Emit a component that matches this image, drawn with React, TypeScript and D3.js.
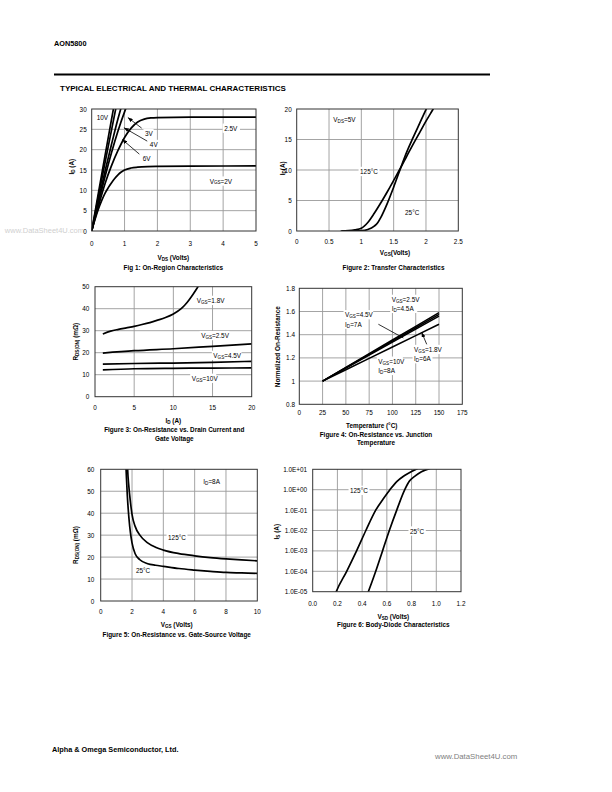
import React from "react";
import * as d3 from "d3";

type Pt = [number, number];

const FONT = "'Liberation Sans', Arial, Helvetica, sans-serif";

// ---------- Figure 1: On-Region Characteristics (ID vs VDS)
const fig1XTicks = [0, 1, 2, 3, 4, 5];
const fig1YTicks = [0, 5, 10, 15, 20, 25, 30];
const fig1Vgs10V: Pt[] = [[0, 0], [0.2, 9.2], [0.4, 18.3], [0.6, 27.3], [0.7, 31.8]];
const fig1Vgs6V: Pt[] = [[0, 0], [0.2, 8.4], [0.4, 16.6], [0.6, 24.7], [0.73, 30], [0.8, 32.7]];
const fig1Vgs4V: Pt[] = [[0, 0], [0.2, 7.4], [0.4, 14.5], [0.6, 21.2], [0.8, 27.6], [0.9, 30.5]];
const fig1Vgs3V: Pt[] = [[0, 0], [0.2, 6.8], [0.4, 13.2], [0.6, 19.2], [0.8, 24.6], [1.0, 29.3], [1.1, 31.4]];
const fig1Vgs2_5V: Pt[] = [[0, 0], [0.2, 6], [0.4, 11.5], [0.6, 16], [0.8, 19.8], [1.0, 23], [1.2, 25.3], [1.4, 26.8], [1.6, 27.5], [1.8, 27.8], [2, 27.9], [3, 28], [4, 28], [5, 28]];
const fig1Vgs2V: Pt[] = [[0, 0], [0.1, 2.8], [0.2, 5.3], [0.3, 7.4], [0.4, 9.2], [0.5, 10.6], [0.6, 11.8], [0.7, 12.9], [0.8, 13.8], [0.9, 14.5], [1.0, 15.0], [1.2, 15.5], [1.4, 15.7], [1.7, 15.85], [2, 15.9], [3, 15.95], [5, 16]];

// ---------- Figure 2: Transfer Characteristics (ID vs VGS)
const fig2XTicks = [0, 0.5, 1, 1.5, 2, 2.5];
const fig2YTicks = [0, 5, 10, 15, 20];
const fig2T125: Pt[] = [[0.68, 0], [0.8, 0.05], [0.9, 0.18], [1.0, 0.45], [1.1, 1.4], [1.2, 2.9], [1.3, 4.6], [1.4, 6.4], [1.5, 8.3], [1.6, 10.2], [1.7, 12.2], [1.8, 14.2], [1.9, 16.1], [2.0, 18.0], [2.1, 19.8], [2.15, 20.7]];
const fig2T25: Pt[] = [[0.7, 0], [0.9, 0.01], [1.0, 0.05], [1.1, 0.25], [1.2, 0.8], [1.25, 1.3], [1.3, 2.2], [1.4, 4.5], [1.5, 7.2], [1.6, 10.1], [1.7, 12.9], [1.8, 15.3], [1.9, 17.6], [2.0, 19.9], [2.05, 21]];

// ---------- Figure 3: On-Resistance vs Drain Current
const fig3XTicks = [0, 5, 10, 15, 20];
const fig3YTicks = [0, 10, 20, 30, 40, 50];
const fig3Vgs1_8V: Pt[] = [[1, 28.5], [2, 29.8], [3, 30.6], [4, 31.3], [5, 32], [6, 32.8], [7, 33.7], [8, 34.8], [9, 36], [10, 37.6], [11, 40], [11.5, 41.8], [12, 44], [12.5, 46.5], [13, 49.2], [13.3, 51]];
const fig3Vgs2_5V: Pt[] = [[1, 19.8], [5, 20.9], [10, 21.8], [15, 22.9], [20, 24]];
const fig3Vgs4_5V: Pt[] = [[1, 14.8], [5, 15.1], [10, 15.3], [15, 15.6], [20, 16.1]];
const fig3Vgs10V: Pt[] = [[1, 12.2], [5, 12.7], [10, 12.9], [15, 13], [20, 13.1]];

// ---------- Figure 4: Normalized On-Resistance vs Temperature
const fig4XTicks = [0, 25, 50, 75, 100, 125, 150, 175];
const fig4YTicks = [0.8, 1, 1.2, 1.4, 1.6, 1.8];
const fig4Vgs2_5V: Pt[] = [[25, 1], [50, 1.118], [75, 1.236], [100, 1.354], [125, 1.472], [150, 1.59]];
const fig4Vgs4_5V: Pt[] = [[25, 1], [50, 1.115], [75, 1.23], [100, 1.345], [125, 1.46], [150, 1.575]];
const fig4Vgs10V: Pt[] = [[25, 1], [50, 1.112], [75, 1.224], [100, 1.336], [125, 1.448], [150, 1.56]];
const fig4Vgs1_8V: Pt[] = [[25, 1], [50, 1.098], [75, 1.196], [100, 1.294], [125, 1.392], [150, 1.49]];

// ---------- Figure 5: On-Resistance vs Gate-Source Voltage
const fig5XTicks = [0, 2, 4, 6, 8, 10];
const fig5YTicks = [0, 10, 20, 30, 40, 50, 60];
const fig5T25: Pt[] = [[1.58, 66], [1.62, 60], [1.7, 48], [1.8, 38], [1.9, 31], [2.0, 26.5], [2.2, 21.5], [2.5, 18.8], [3, 17], [3.5, 16.3], [4, 15.8], [5, 14.8], [6, 14.1], [7, 13.5], [8, 13], [9, 12.8], [10, 12.6]];
const fig5T125: Pt[] = [[1.69, 66], [1.72, 60], [1.8, 52], [1.9, 45], [2.0, 39.5], [2.2, 34], [2.5, 30], [3, 26.5], [3.5, 24.5], [4, 23.2], [5, 21.6], [6, 20.6], [7, 19.8], [8, 19.2], [9, 18.7], [10, 18.3]];

// ---------- Figure 6: Body-Diode Characteristics (IS vs VSD, log)
const fig6XTicks = [0, 0.2, 0.4, 0.6, 0.8, 1.0, 1.2];
const fig6YTicks = [1e-5, 1e-4, 1e-3, 1e-2, 1e-1, 1, 10];
const fig6YTickLabels = ["1.0E-05", "1.0E-04", "1.0E-03", "1.0E-02", "1.0E-01", "1.0E+00", "1.0E+01"];
const fig6T125: Pt[] = [[0.18, 7e-6], [0.19, 1e-5], [0.275, 1e-4], [0.355, 1e-3], [0.43, 1e-2], [0.51, 1e-1], [0.57, 0.35], [0.625, 1], [0.68, 2.5], [0.74, 4.8], [0.8, 7.9], [0.85, 11]];
const fig6T25: Pt[] = [[0.44, 7e-6], [0.45, 1e-5], [0.51, 1e-4], [0.565, 1e-3], [0.62, 1e-2], [0.68, 1e-1], [0.745, 1], [0.78, 2.5], [0.83, 4.8], [0.88, 7.6], [0.95, 11]];

interface Label { at: Pt; text: string; box?: boolean; }
interface Arrow { from: Pt; to: Pt; head?: boolean; }
interface PanelProps {
  id: string;
  left: number; right: number; top: number; bottom: number;
  xDomain: [number, number]; yDomain: [number, number]; yLog?: boolean;
  xTicks: number[]; yTicks: number[];
  xFmt: (v: number, i: number) => string; yFmt: (v: number, i: number) => string;
  xTickDy: number; yTickDx: number;
  series: Pt[][]; linear?: boolean; strokeW?: number;
  labels: Label[]; arrows?: Arrow[];
  xLabel: string; xLabelAt: Pt;
  yLabel: string; yLabelAt: Pt;
  title: string[]; titleAt: Pt;
}

const FS = 6.4;

function rich(str: string, fs: number) {
  const out: React.ReactNode[] = [];
  const re = /\{([^}]*)\}/g;
  let last = 0;
  let m: RegExpExecArray | null;
  let k = 0;
  let pendingUp = false;
  const sh = fs * 0.3;
  while ((m = re.exec(str))) {
    if (m.index > last) {
      out.push(<tspan key={k++} dy={pendingUp ? -sh : undefined}>{str.slice(last, m.index)}</tspan>);
      pendingUp = false;
    }
    out.push(<tspan key={k++} fontSize={fs * 0.72} dy={pendingUp ? 0 : sh}>{m[1]}</tspan>);
    pendingUp = true;
    last = re.lastIndex;
  }
  if (last < str.length) {
    out.push(<tspan key={k++} dy={pendingUp ? -sh : undefined}>{str.slice(last)}</tspan>);
  }
  return out;
}

function richWidth(str: string, fs: number) {
  const re = /\{([^}]*)\}/g;
  const subs = [...str.matchAll(re)].map((m) => m[1]).join("");
  const plain = str.replace(re, "");
  return plain.length * fs * 0.56 + subs.length * fs * 0.72 * 0.56;
}

function Panel(p: PanelProps) {
  const x = d3.scaleLinear().domain(p.xDomain).range([p.left, p.right]);
  const y = p.yLog
    ? d3.scaleLog().domain(p.yDomain).range([p.bottom, p.top])
    : d3.scaleLinear().domain(p.yDomain).range([p.bottom, p.top]);
  const line = d3
    .line<Pt>()
    .x((d) => x(d[0]))
    .y((d) => y(d[1]))
    .curve(p.linear ? d3.curveLinear : d3.curveMonotoneX);
  const grid = "#9a9a9a";
  return (
    <g fontFamily={FONT}>
      <defs>
        <clipPath id={p.id}>
          <rect x={p.left} y={p.top} width={p.right - p.left} height={p.bottom - p.top} />
        </clipPath>
      </defs>
      {p.xTicks.slice(1, -1).map((t) => (
        <line key={"gx" + t} x1={x(t)} x2={x(t)} y1={p.top} y2={p.bottom} stroke={grid} strokeWidth={0.9} />
      ))}
      {p.yTicks.slice(1, -1).map((t) => (
        <line key={"gy" + t} x1={p.left} x2={p.right} y1={y(t)} y2={y(t)} stroke={grid} strokeWidth={0.9} />
      ))}
      {p.labels.filter((l) => l.box !== false).map((l, i) => {
        const w = richWidth(l.text, FS);
        return (
          <rect key={"lb" + i} x={x(l.at[0]) - 1.5} y={y(l.at[1]) - FS * 0.65} width={w + 3} height={FS * 1.45} fill="#fff" />
        );
      })}
      <g clipPath={`url(#${p.id})`}>
        {p.series.map((s, i) => (
          <path key={"s" + i} d={line(s) || ""} fill="none" stroke="#000" strokeWidth={p.strokeW ?? 1.7} strokeLinejoin="round" />
        ))}
      </g>
      <rect x={p.left} y={p.top} width={p.right - p.left} height={p.bottom - p.top} fill="none" stroke="#333" strokeWidth={1} />
      {(p.arrows || []).map((a, i) => (
        <line key={"a" + i} x1={x(a.from[0])} y1={y(a.from[1])} x2={x(a.to[0])} y2={y(a.to[1])} stroke="#000" strokeWidth={0.8}
          markerEnd={a.head ? "url(#arrowhead)" : undefined} />
      ))}
      {p.labels.map((l, i) => (
        <text key={"lt" + i} x={x(l.at[0])} y={y(l.at[1])} fontSize={FS} dominantBaseline="central" fill="#000">
          {rich(l.text, FS)}
        </text>
      ))}
      {p.xTicks.map((t, i) => (
        <text key={"tx" + i} x={x(t)} y={p.bottom + p.xTickDy} fontSize={FS} textAnchor="middle" dominantBaseline="central">
          {p.xFmt(t, i)}
        </text>
      ))}
      {p.yTicks.map((t, i) => (
        <text key={"ty" + i} x={p.left - p.yTickDx} y={y(t)} fontSize={FS} textAnchor="end" dominantBaseline="central">
          {p.yFmt(t, i)}
        </text>
      ))}
      <text x={p.xLabelAt[0]} y={p.xLabelAt[1]} fontSize={FS} fontWeight="bold" textAnchor="middle" dominantBaseline="central">
        {rich(p.xLabel, FS)}
      </text>
      <text transform={`translate(${p.yLabelAt[0]},${p.yLabelAt[1]}) rotate(-90)`} fontSize={FS} fontWeight="bold" textAnchor="middle" dominantBaseline="central">
        {rich(p.yLabel, FS)}
      </text>
      {p.title.map((t, i) => (
        <text key={"tt" + i} x={p.titleAt[0]} y={p.titleAt[1] + i * 8.3} fontSize={FS} fontWeight="bold" textAnchor="middle" dominantBaseline="central">
          {t}
        </text>
      ))}
    </g>
  );
}

const num = (v: number) => String(v);

export default function App() {
  return (
    <div style={{ position: "absolute", left: 0, top: 0 }}>
      <svg width={612} height={792} style={{ display: "block", background: "#fff" }} fontFamily={FONT}>
        <defs>
          <marker id="arrowhead" markerUnits="userSpaceOnUse" markerWidth={5} markerHeight={4} refX={5} refY={2} orient="auto">
            <path d="M0,0 L5,2 L0,4 z" fill="#000" />
          </marker>
          <clipPath id="titleclip">
            <rect x={0} y={70} width={299} height={30} />
          </clipPath>
        </defs>
        <rect x={0} y={0} width={612} height={792} fill="#fff" />
        <text x={54} y={43.5} fontSize={7.3} fontWeight="bold" dominantBaseline="central">AON5800</text>
        <line x1={54} x2={490} y1={74.5} y2={74.5} stroke="#000" strokeWidth={2} />
        <text x={60} y={88} fontSize={8} fontWeight="bold" dominantBaseline="central" clipPath="url(#titleclip)">
          TYPICAL ELECTRICAL AND THERMAL CHARACTERISTICS
        </text>
        <text x={84} y={230} fontSize={7.5} fill="#cfcfcf" textAnchor="end" dominantBaseline="central">www.DataSheet4U.com</text>

        <Panel
          id="f1" left={91.7} right={256} top={109} bottom={231}
          xDomain={[0, 5]} yDomain={[0, 30]} xTicks={fig1XTicks} yTicks={fig1YTicks}
          xFmt={num} yFmt={num} xTickDy={12} yTickDx={5}
          series={[fig1Vgs10V, fig1Vgs6V, fig1Vgs4V, fig1Vgs3V, fig1Vgs2_5V, fig1Vgs2V]}
          labels={[
            { at: [0.15, 27.95], text: "10V", box: false },
            { at: [1.62, 24.1], text: "3V" },
            { at: [1.77, 21.4], text: "4V" },
            { at: [1.55, 18.0], text: "6V" },
            { at: [4.03, 25.4], text: "2.5V" },
            { at: [3.59, 12.4], text: "V{GS}=2V" },
          ]}
          arrows={[
            { from: [1.52, 25.3], to: [1.1, 27.9], head: true },
            { from: [1.69, 22.1], to: [0.98, 25.4], head: true },
            { from: [1.45, 18.9], to: [0.93, 22.5], head: true },
          ]}
          xLabel="V{DS} (Volts)" xLabelAt={[173.3, 257.3]}
          yLabel="I{D} (A)" yLabelAt={[70.7, 166.7]}
          title={["Fig 1: On-Region Characteristics"]} titleAt={[173.3, 267.3]}
        />

        <Panel
          id="f2" left={296.7} right={458.3} top={109} bottom={231}
          xDomain={[0, 2.5]} yDomain={[0, 20]} xTicks={fig2XTicks} yTicks={fig2YTicks}
          xFmt={num} yFmt={num} xTickDy={10} yTickDx={5}
          series={[fig2T125, fig2T25]}
          labels={[
            { at: [0.567, 18.4], text: "V{DS}=5V" },
            { at: [0.98, 9.84], text: "125°C" },
            { at: [1.676, 3.06], text: "25°C" },
          ]}
          xLabel="V{GS}(Volts)" xLabelAt={[395, 251.7]}
          yLabel="I{D}(A)" yLabelAt={[281.7, 168.3]}
          title={["Figure 2: Transfer Characteristics"]} titleAt={[393.5, 267.5]}
        />

        <Panel
          id="f3" left={95} right={251.7} top={286.7} bottom={396.7}
          xDomain={[0, 20]} yDomain={[0, 50]} xTicks={fig3XTicks} yTicks={fig3YTicks}
          xFmt={num} yFmt={num} xTickDy={10.6} yTickDx={5.7}
          series={[fig3Vgs1_8V, fig3Vgs2_5V, fig3Vgs4_5V, fig3Vgs10V]}
          labels={[
            { at: [12.98, 44], text: "V{GS}=1.8V" },
            { at: [13.55, 28], text: "V{GS}=2.5V" },
            { at: [15.1, 19], text: "V{GS}=4.5V" },
            { at: [12.34, 8.6], text: "V{GS}=10V" },
          ]}
          xLabel="I{D} (A)" xLabelAt={[173.3, 420]}
          yLabel="R{DS(ON)} (mΩ)" yLabelAt={[75, 341.7]}
          title={["Figure 3: On-Resistance vs. Drain Current and", "Gate Voltage"]} titleAt={[174.3, 429.7]}
        />

        <Panel
          id="f4" left={299.3} right={462.3} top={288.3} bottom={404.3}
          xDomain={[0, 175]} yDomain={[0.8, 1.8]} xTicks={fig4XTicks} yTicks={fig4YTicks}
          xFmt={num} yFmt={num} xTickDy={8} yTickDx={4.3}
          series={[fig4Vgs2_5V, fig4Vgs4_5V, fig4Vgs10V, fig4Vgs1_8V]} linear strokeW={1.6}
          labels={[
            { at: [99.2, 1.709], text: "V{GS}=2.5V" },
            { at: [99.2, 1.631], text: "I{D}=4.5A" },
            { at: [49.1, 1.576], text: "V{GS}=4.5V" },
            { at: [49.1, 1.495], text: "I{D}=7A" },
            { at: [123.2, 1.277], text: "V{GS}=1.8V" },
            { at: [123.2, 1.197], text: "I{D}=6A" },
            { at: [84.8, 1.176], text: "V{GS}=10V" },
            { at: [84.8, 1.096], text: "I{D}=8A" },
          ]}
          arrows={[
            { from: [84.9, 1.49], to: [111.7, 1.372] },
            { from: [136.8, 1.317], to: [131.4, 1.42], head: true },
          ]}
          xLabel="Temperature (°C)" xLabelAt={[371.7, 425]}
          yLabel="Normalized On-Resistance" yLabelAt={[276.7, 346.7]}
          title={["Figure 4: On-Resistance vs. Junction", "Temperature"]} titleAt={[376, 434]}
        />

        <Panel
          id="f5" left={100.7} right={257.3} top={469.3} bottom={601}
          xDomain={[0, 10]} yDomain={[0, 60]} xTicks={fig5XTicks} yTicks={fig5YTicks}
          xFmt={num} yFmt={num} xTickDy={10.7} yTickDx={6.4}
          series={[fig5T25, fig5T125]}
          labels={[
            { at: [6.55, 54.8], text: "I{D}=8A" },
            { at: [4.3, 29.3], text: "125°C" },
            { at: [2.25, 14.1], text: "25°C" },
          ]}
          xLabel="V{GS} (Volts)" xLabelAt={[176.7, 624.3]}
          yLabel="R{DS(ON)} (mΩ)" yLabelAt={[75, 545]}
          title={["Figure 5: On-Resistance vs. Gate-Source Voltage"]} titleAt={[176.7, 634.3]}
        />

        <Panel
          id="f6" left={312.7} right={461} top={469.3} bottom={591.7}
          xDomain={[0, 1.2]} yDomain={[1e-5, 10]} yLog xTicks={fig6XTicks} yTicks={fig6YTicks}
          xFmt={(v) => v.toFixed(1)} yFmt={(_, i) => fig6YTickLabels[i]} xTickDy={11.6} yTickDx={5.5}
          series={[fig6T125, fig6T25]}
          labels={[
            { at: [0.302, 0.98], text: "125°C" },
            { at: [0.787, 1e-2], text: "25°C" },
          ]}
          xLabel="V{SD} (Volts)" xLabelAt={[393.3, 615.7]}
          yLabel="I{S} (A)" yLabelAt={[276, 531.7]}
          title={["Figure 6: Body-Diode Characteristics"]} titleAt={[393.3, 624.3]}
        />

        <text x={52} y={749} fontSize={7.3} fontWeight="bold" dominantBaseline="central">Alpha &amp; Omega Semiconductor, Ltd.</text>
        <text x={435} y={756} fontSize={7.8} fill="#808080" dominantBaseline="central">www.DataSheet4U.com</text>
      </svg>
    </div>
  );
}
